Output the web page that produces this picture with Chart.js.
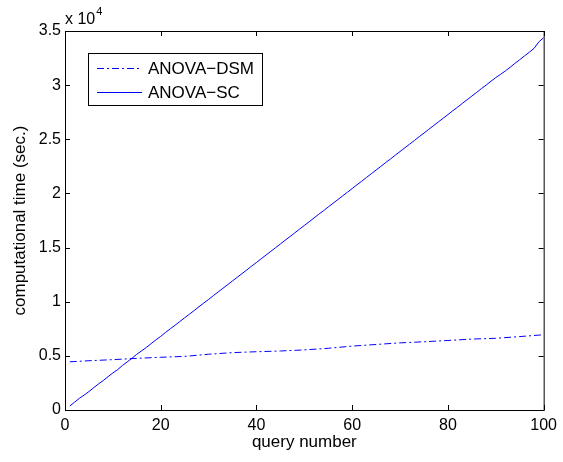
<!DOCTYPE html>
<html>
<head>
<meta charset="utf-8">
<script src="https://cdn.jsdelivr.net/npm/chart.js@4/dist/chart.umd.min.js"></script>
<style>
  html, body { margin: 0; padding: 0; background: #fff; }
  #wrap { width: 563px; height: 462px; }
</style>
</head>
<body>
<div id="wrap"><canvas id="chart"></canvas></div>
<script>
// query numbers for the SC curve (1..100)
const scQueries = [
  1, 2, 3, 4, 5, 6, 7, 8, 9, 10, 11, 12, 13, 14, 15, 16, 17, 18, 19, 20,
  21, 22, 23, 24, 25, 26, 27, 28, 29, 30, 31, 32, 33, 34, 35, 36, 37, 38, 39, 40,
  41, 42, 43, 44, 45, 46, 47, 48, 49, 50, 51, 52, 53, 54, 55, 56, 57, 58, 59, 60,
  61, 62, 63, 64, 65, 66, 67, 68, 69, 70, 71, 72, 73, 74, 75, 76, 77, 78, 79, 80,
  81, 82, 83, 84, 85, 86, 87, 88, 89, 90, 91, 92, 93, 94, 95, 96, 97, 98, 99, 100
];
const scTime = [
  370, 720, 1080, 1380, 1700, 2060, 2410, 2720, 3080, 3420,
  3730, 4110, 4440, 4780, 5150, 5460, 5780, 6130, 6480, 6800,
  7160, 7500, 7830, 8170, 8520, 8850, 9190, 9540, 9880, 10210,
  10560, 10900, 11240, 11580, 11920, 12260, 12600, 12940, 13290, 13620,
  13970, 14310, 14650, 14990, 15330, 15680, 16010, 16360, 16700, 17040,
  17380, 17720, 18070, 18400, 18750, 19090, 19430, 19770, 20110, 20450,
  20800, 21130, 21480, 21820, 22160, 22500, 22850, 23180, 23530, 23870,
  24210, 24550, 24890, 25240, 25570, 25920, 26260, 26600, 26940, 27280,
  27630, 27960, 28310, 28650, 28990, 29330, 29680, 30010, 30360, 30700,
  31000, 31310, 31650, 32010, 32350, 32700, 33040, 33400, 34000, 34380
];
const dsmQueries = [1, 5, 10, 15, 20, 25, 30, 35, 40, 45, 50, 55, 60, 65, 70, 75, 80, 85, 90, 95, 100];
const dsmTime = [4450, 4550, 4650, 4770, 4870, 4950, 5150, 5300, 5380, 5450, 5550,
                 5700, 5900, 6050, 6200, 6300, 6420, 6550, 6620, 6780, 6950];

const seriesNames = ['ANOVA\u2212DSM', 'ANOVA\u2212SC'];
const xTitle = 'query number';
const yTitle = 'computational time (sec.)';

const FONT = 'Liberation Sans, Arial, Helvetica, sans-serif';

const matlabFrame = {
    id: 'matlabFrame',
    afterDraw(chart) {
        const { ctx, chartArea: a, scales: { x, y } } = chart;
        ctx.save();
        ctx.strokeStyle = '#000';
        ctx.lineWidth = 1;
        ctx.strokeRect(a.left + 0.5, a.top + 0.5, a.right - a.left, a.bottom - a.top);

        const seg = (x1, y1, x2, y2) => {
            ctx.beginPath(); ctx.moveTo(x1, y1); ctx.lineTo(x2, y2); ctx.stroke();
        };
        x.ticks.forEach(t => {
            const px = Math.round(x.getPixelForValue(t.value)) + 0.5;
            seg(px, a.bottom, px, a.bottom - 5);
            seg(px, a.top, px, a.top + 5);
        });
        y.ticks.forEach(t => {
            const py = Math.round(y.getPixelForValue(t.value)) + 0.5;
            seg(a.left, py, a.left + 5, py);
            seg(a.right, py, a.right - 5, py);
        });

        ctx.fillStyle = '#000';
        // exponent label
        ctx.font = '16px ' + FONT;
        ctx.textAlign = 'left';
        ctx.textBaseline = 'alphabetic';
        ctx.fillText('x 10', a.left, a.top - 7);
        const w = ctx.measureText('x 10').width;
        ctx.font = '11px ' + FONT;
        ctx.fillText('4', a.left + w + 1, a.top - 16);

        // axis titles
        ctx.font = '17px ' + FONT;
        ctx.textAlign = 'center';
        ctx.textBaseline = 'middle';
        ctx.fillText(xTitle, (a.left + a.right) / 2, 442);
        ctx.save();
        ctx.translate(20, (a.top + a.bottom) / 2);
        ctx.rotate(-Math.PI / 2);
        ctx.fillText(yTitle, 0, 0);
        ctx.restore();

        // legend
        const lx = 88, ly = 53, lw = 174, lh = 52;
        ctx.fillStyle = '#fff';
        ctx.fillRect(lx, ly, lw, lh);
        ctx.strokeRect(lx + 0.5, ly + 0.5, lw, lh);
        chart.data.datasets.forEach((ds, i) => {
            const rowY = ly + 15 + i * 24;
            ctx.strokeStyle = ds.borderColor;
            ctx.setLineDash(ds.borderDash || []);
            seg(97, rowY + 0.5, 142, rowY + 0.5);
            ctx.setLineDash([]);
            ctx.fillStyle = '#000';
            ctx.font = '17px ' + FONT;
            ctx.textAlign = 'left';
            ctx.textBaseline = 'middle';
            ctx.fillText(ds.label, 148, rowY + 1);
        });
        ctx.restore();
    }
};

new Chart(document.getElementById('chart'), {
    type: 'line',
    data: {
        datasets: [{
            label: seriesNames[0],
            data: dsmQueries.map((q, i) => ({ x: q, y: dsmTime[i] })),
            borderColor: '#0000ff',
            borderWidth: 1,
            borderDash: [7, 3, 2, 3],
            pointRadius: 0,
            tension: 0,
            fill: false,
        }, {
            label: seriesNames[1],
            data: scQueries.map((q, i) => ({ x: q, y: scTime[i] })),
            borderColor: '#0000ff',
            borderWidth: 1,
            pointRadius: 0,
            tension: 0,
            fill: false,
        }],
    },
    options: {
        responsive: true,
        maintainAspectRatio: false,
        animation: false,
        layout: { padding: { left: 0, right: 17, top: 31, bottom: 0 } },
        plugins: {
            legend: { display: false },
            tooltip: { enabled: false },
        },
        scales: {
            x: {
                type: 'linear',
                min: 0,
                max: 100,
                grid: { display: false, tickLength: 0 },
                border: { display: false },
                ticks: {
                    stepSize: 20,
                    color: '#000',
                    padding: 6,
                    maxRotation: 0,
                    font: { family: FONT, size: 16 },
                },
                afterFit(scale) { scale.height = 52; },
            },
            y: {
                min: 0,
                max: 35000,
                grid: { display: false, tickLength: 0 },
                border: { display: false },
                ticks: {
                    stepSize: 5000,
                    color: '#000',
                    padding: 4,
                    font: { family: FONT, size: 16 },
                    callback: v => String(v / 10000),
                },
                afterFit(scale) { scale.width = 65; },
            },
        },
    },
    plugins: [matlabFrame],
});
</script>
</body>
</html>
